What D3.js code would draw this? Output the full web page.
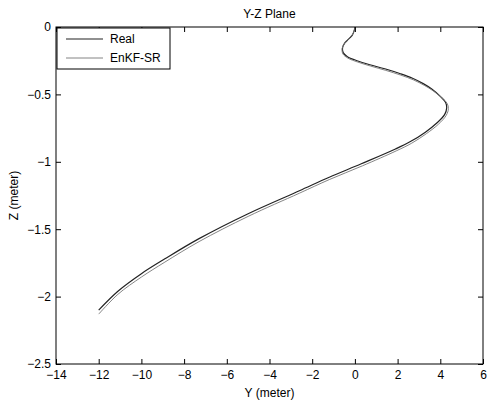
<!DOCTYPE html>
<html>
<head>
<meta charset="utf-8">
<script src="https://cdn.jsdelivr.net/npm/d3@7"></script>
<style>
  body { margin: 0; background: #fff; }
  text { font-family: "Liberation Sans", Arial, sans-serif; font-size: 12px; fill: #000; }
</style>
</head>
<body>
<div id="chart"></div>
<script>
// sizes
const WIDTH = 488
const HEIGHT = 405
const MARGINS = {left: 56, right: 5, top: 27, bottom: 41};

// data
const realY = [0, -0.03, -0.12, -0.3, -0.48, -0.58, -0.55, -0.35, 0.1, 0.7, 1.4, 2.1, 2.7, 3.2, 3.6, 4.0, 4.25, 4.3, 4.2, 3.85, 3.3, 2.6, 1.9, 0.3, -1.2, -2.6, -5.0, -7.3, -8.9, -10.0, -11.1, -12.0];
const realZ = [0, -0.025, -0.06, -0.09, -0.12, -0.155, -0.19, -0.22, -0.25, -0.28, -0.31, -0.345, -0.38, -0.42, -0.46, -0.515, -0.56, -0.6, -0.65, -0.71, -0.78, -0.85, -0.905, -1.015, -1.115, -1.215, -1.385, -1.57, -1.72, -1.83, -1.96, -2.10];
const enkfY = [0, -0.03, -0.13, -0.32, -0.5, -0.6, -0.56, -0.34, 0.13, 0.74, 1.45, 2.15, 2.75, 3.25, 3.66, 4.07, 4.32, 4.38, 4.28, 3.92, 3.36, 2.66, 1.95, 0.35, -1.2, -2.6, -5.0, -7.3, -8.9, -10.0, -11.1, -12.0];
const enkfZ = [0, -0.025, -0.06, -0.09, -0.125, -0.16, -0.2, -0.23, -0.26, -0.29, -0.322, -0.357, -0.393, -0.433, -0.473, -0.525, -0.567, -0.605, -0.655, -0.72, -0.79, -0.862, -0.918, -1.03, -1.132, -1.233, -1.405, -1.592, -1.744, -1.855, -1.983, -2.13];

const xTicks = [-14, -12, -10, -8, -6, -4, -2, 0, 2, 4, 6];
const yTicks = [0, -0.5, -1, -1.5, -2, -2.5];

const seriesNames = ["Real", "EnKF-SR"];
const seriesColors = ["#222", "#777"];
const seriesWidths = [1.2, 0.9];

const SVG = d3.select("#chart")
  .append("svg")
    .attr("width", WIDTH)
    .attr("height", HEIGHT);

const SCALE_X = d3.scaleLinear()
  .domain([-14, 6])
  .range([MARGINS.left, WIDTH - MARGINS.right]);

const SCALE_Y = d3.scaleLinear()
  .domain([-2.5, 0])
  .range([HEIGHT - MARGINS.bottom, MARGINS.top]);

const line = d3.line()
  .x((d) => SCALE_X(d[0]))
  .y((d) => SCALE_Y(d[1]))
  .curve(d3.curveCatmullRom);

const series = [
  d3.zip(realY, realZ),
  d3.zip(enkfY, enkfZ)
];

// curves
series.forEach((pts, i) => {
  SVG.append("path")
    .datum(pts)
    .attr("d", line)
    .attr("fill", "none")
    .attr("stroke", seriesColors[i])
    .attr("stroke-width", seriesWidths[i]);
});

// axes, ticks pointing inward like matlab
const TICK = 5;
SVG.append("g")
  .attr("transform", `translate(0,${HEIGHT - MARGINS.bottom})`)
  .call(d3.axisBottom(SCALE_X).tickValues(xTicks).tickSizeInner(-TICK).tickSizeOuter(0).tickPadding(6));
SVG.append("g")
  .attr("transform", `translate(0,${MARGINS.top})`)
  .call(d3.axisTop(SCALE_X).tickValues(xTicks).tickSizeInner(-TICK).tickSizeOuter(0).tickFormat(""));
SVG.append("g")
  .attr("transform", `translate(${MARGINS.left},0)`)
  .call(d3.axisLeft(SCALE_Y).tickValues(yTicks).tickSizeInner(-TICK).tickSizeOuter(0).tickPadding(5)
    .tickFormat((d) => d === 0 ? "0" : d3.format("")(d)));
SVG.append("g")
  .attr("transform", `translate(${WIDTH - MARGINS.right},0)`)
  .call(d3.axisRight(SCALE_Y).tickValues(yTicks).tickSizeInner(-TICK).tickSizeOuter(0).tickFormat(""));

SVG.selectAll(".domain").remove();
SVG.selectAll(".tick line").attr("stroke", "#000");
SVG.selectAll(".tick text").attr("font-family", null).attr("font-size", null).attr("fill", "#000");

// box
SVG.append("rect")
  .attr("x", MARGINS.left)
  .attr("y", MARGINS.top)
  .attr("width", WIDTH - MARGINS.left - MARGINS.right)
  .attr("height", HEIGHT - MARGINS.top - MARGINS.bottom)
  .attr("fill", "none")
  .attr("stroke", "#000")
  .attr("stroke-width", 1);

// labels
SVG.append("text")
  .attr("x", (MARGINS.left + WIDTH - MARGINS.right) / 2)
  .attr("y", 18)
  .attr("text-anchor", "middle")
  .text("Y-Z Plane");
SVG.append("text")
  .attr("x", (MARGINS.left + WIDTH - MARGINS.right) / 2)
  .attr("y", 397)
  .attr("text-anchor", "middle")
  .text("Y (meter)");
SVG.append("text")
  .attr("transform", `translate(18,${(MARGINS.top + HEIGHT - MARGINS.bottom) / 2}) rotate(-90)`)
  .attr("text-anchor", "middle")
  .text("Z (meter)");

// legend
const LEG = SVG.append("g").attr("transform", `translate(${MARGINS.left + 1},${MARGINS.top + 1})`);
LEG.append("rect")
  .attr("x", 0).attr("y", 0)
  .attr("width", 113).attr("height", 41)
  .attr("fill", "#fff")
  .attr("stroke", "#000");
seriesNames.forEach((name, i) => {
  const y = 11 + i * 19;
  LEG.append("line")
    .attr("x1", 9).attr("x2", 46)
    .attr("y1", y).attr("y2", y)
    .attr("stroke", seriesColors[i])
    .attr("stroke-width", seriesWidths[i]);
  LEG.append("text")
    .attr("x", 53).attr("y", y + 4)
    .text(name);
});
</script>
</body>
</html>
